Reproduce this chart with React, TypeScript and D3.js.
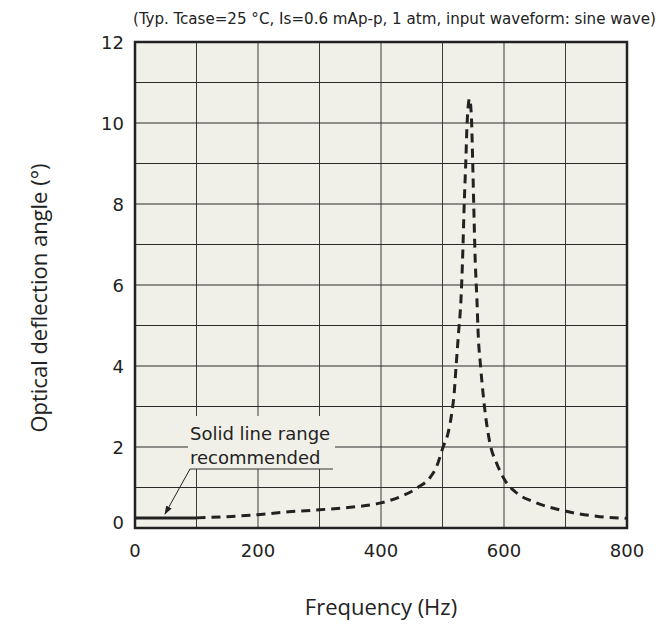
import React from "react";
import * as d3 from "d3";

const solidFreq = [0, 100];
const solidAngle = [0.25, 0.25];

const dashFreq = [100, 150, 200, 250, 300, 350, 400, 431, 460, 480, 490, 501, 509, 515, 519, 522, 526, 530, 533, 535, 538, 540, 544, 547, 549, 551, 553, 556, 558, 562, 569, 577, 588, 601, 621, 648, 696, 756, 800];
const dashAngle = [0.25, 0.28, 0.33, 0.4, 0.45, 0.51, 0.62, 0.77, 1.0, 1.25, 1.5, 2.0, 2.34, 2.83, 3.33, 3.98, 4.8, 5.63, 6.8, 7.85, 9.1, 10.0, 10.6, 10.15, 9.1, 7.85, 6.7, 5.63, 4.8, 3.98, 2.9, 2.1, 1.6, 1.19, 0.86, 0.65, 0.43, 0.28, 0.24];

const xTicks = [0, 200, 400, 600, 800];
const yTicks = [0, 2, 4, 6, 8, 10, 12];
const xGrid = [100, 200, 300, 400, 500, 600, 700];
const yGrid = [1, 2, 3, 4, 5, 6, 7, 8, 9, 10, 11];

const titleText = "(Typ. Tcase=25 °C, Is=0.6 mAp-p, 1 atm, input waveform: sine wave)";
const xLabel = "Frequency (Hz)";
const yLabel = "Optical deflection angle (°)";
const noteLines = ["Solid line range", "recommended"];

const L = 135, R = 627, T = 42, B = 528;

export default function App() {
  const x = d3.scaleLinear().domain([0, 800]).range([L, R]);
  const y = d3.scaleLinear().domain([0, 12]).range([B, T]);
  const line = d3
    .line<[number, number]>()
    .x((d) => x(d[0]))
    .y((d) => y(d[1]))
    .curve(d3.curveMonotoneX);
  const solidPts = solidFreq.map((f, i) => [f, solidAngle[i]] as [number, number]);
  const dashPts = dashFreq.map((f, i) => [f, dashAngle[i]] as [number, number]);
  const tickFont = "DejaVu Sans";
  const labelFont = "'Open Sans'";
  return (
    <svg width={660} height={624} style={{ position: "absolute", left: 0, top: 0, background: "#fff" }}>
      <defs>
        <marker id="arr" viewBox="0 0 10 10" refX="9" refY="5" markerWidth="9" markerHeight="9" orient="auto" markerUnits="userSpaceOnUse">
          <path d="M0,1.5 L10,5 L0,8.5 z" fill="#222" />
        </marker>
      </defs>
      <rect x={L} y={T} width={R - L} height={B - T} fill="#f1f0e8" />
      {xGrid.map((v) => (
        <line key={"xg" + v} x1={x(v)} x2={x(v)} y1={T} y2={B} stroke="#3a3a3a" strokeWidth={1} />
      ))}
      {yGrid.map((v) => (
        <line key={"yg" + v} x1={L} x2={R} y1={y(v)} y2={y(v)} stroke="#2a2a2a" strokeWidth={1} />
      ))}
      {/* annotation background */}
      <rect x={188} y={416} width={147} height={53} fill="#f1f0e8" />
      <line x1={190} x2={333} y1={469} y2={469} stroke="#333" strokeWidth={1} />
      <line x1={190} y1={469} x2={165} y2={514} stroke="#222" strokeWidth={1} markerEnd="url(#arr)" />
      {noteLines.map((t, i) => (
        <text key={t} x={190} y={440 + i * 23.5} fontFamily={tickFont} fontSize={18} fill="#222">
          {t}
        </text>
      ))}
      <path d={line(solidPts) || ""} fill="none" stroke="#222" strokeWidth={3} />
      <path d={line(dashPts) || ""} fill="none" stroke="#222" strokeWidth={3} strokeDasharray="9,6" />
      <rect x={L} y={T} width={R - L} height={B - T} fill="none" stroke="#222" strokeWidth={2.5} />
      {xTicks.map((v) => (
        <text key={"xt" + v} x={x(v)} y={557} textAnchor="middle" fontFamily={tickFont} fontSize={18} fill="#222">
          {v}
        </text>
      ))}
      {yTicks.map((v) => (
        <text key={"yt" + v} x={124} y={y(v) + (v === 0 ? 1 : 6.5)} textAnchor="end" fontFamily={tickFont} fontSize={18} fill="#222">
          {v}
        </text>
      ))}
      <text x={133} y={24} fontFamily="'DejaVu Sans Condensed', 'DejaVu Sans'" fontSize={16} fill="#222" textLength={523} lengthAdjust="spacingAndGlyphs">
        {titleText}
      </text>
      <text x={381} y={615} textAnchor="middle" fontFamily={labelFont} fontSize={22} fill="#222">
        {xLabel}
      </text>
      <text transform={`translate(47,298) rotate(-90)`} textAnchor="middle" fontFamily={labelFont} fontSize={22} fill="#222">
        {yLabel}
      </text>
    </svg>
  );
}
